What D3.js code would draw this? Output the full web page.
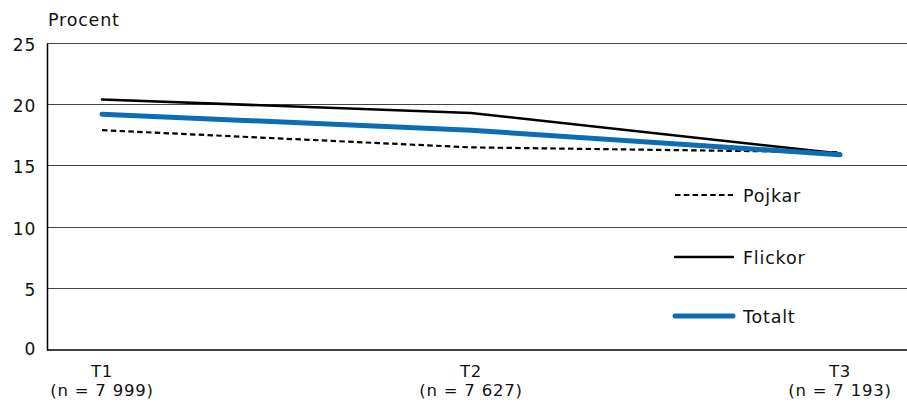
<!DOCTYPE html>
<html><head><meta charset="utf-8">
<script src="https://cdn.jsdelivr.net/npm/d3@7"></script>
<style>body{margin:0;background:#fff}svg{display:block;font-family:"DejaVu Sans",Verdana,sans-serif}text{letter-spacing:0.8px}</style>
</head><body><svg id="c" width="907" height="408"></svg>
<script>
const categories = ["T1", "T2", "T3"];
const nLabels = ["(n = 7 999)", "(n = 7 627)", "(n = 7 193)"];
const pojkar = [17.9, 16.5, 16.1];
const flickor = [20.4, 19.3, 16.0];
const totalt = [19.2, 17.9, 15.9];
const yTicks = [0, 5, 10, 15, 20, 25];
const seriesNames = ["Pojkar", "Flickor", "Totalt"];

const FONT = "DejaVu Sans, Verdana, sans-serif";
const svg = d3.select("#c");
const mLeft = 47, mRight = 907, mTop = 43, mBottom = 350;
const x = d3.scalePoint().domain(categories).range([102, 840]);
const y = d3.scaleLinear().domain([0, 25]).range([mBottom, mTop]);

// gridlines
svg.append("g").selectAll("line").data(yTicks.filter(d => d > 0)).join("line")
  .attr("x1", mLeft).attr("x2", mRight).attr("y1", d => y(d)).attr("y2", d => y(d))
  .attr("stroke", "#444").attr("stroke-width", 1).attr("shape-rendering", "crispEdges");

// y axis
const ya = svg.append("g").attr("transform", `translate(${mLeft},0)`)
  .call(d3.axisLeft(y).tickValues(yTicks).tickSize(0).tickPadding(11));
ya.select(".domain").attr("stroke", "#000").attr("stroke-width", 1.5);
ya.selectAll("text").attr("font-size", 17).attr("fill", "#111").attr("font-family", FONT)
  .attr("dy", d => d === 0 ? "0.25em" : "0.42em");

// x axis line
svg.append("line").attr("x1", mLeft).attr("x2", mRight).attr("y1", y(0)).attr("y2", y(0))
  .attr("stroke", "#000").attr("stroke-width", 1.5);

// x labels
const xl = svg.append("g");
xl.selectAll("text.t").data(categories).join("text").attr("class", "t")
  .attr("x", d => x(d)).attr("y", 376.5).attr("text-anchor", "middle")
  .attr("font-size", 16.5).attr("fill", "#111").text(d => d);
xl.selectAll("text.n").data(categories).join("text").attr("class", "n")
  .attr("x", d => x(d)).attr("y", 396).attr("text-anchor", "middle")
  .attr("font-size", 16.5).attr("fill", "#111").text((d, i) => nLabels[i]);

// title
svg.append("text").attr("x", 48).attr("y", 26).attr("font-size", 17.5).attr("fill", "#111").text("Procent");

const line = d3.line().x((d, i) => x(categories[i])).y(d => y(d));
const styles = [
  {data: pojkar, stroke: "#000", width: 2.2, dash: "5.5,3.3"},
  {data: flickor, stroke: "#000", width: 2.5, dash: null},
  {data: totalt, stroke: "#0a6db5", width: 5, dash: null}
];
styles.forEach(s => {
  svg.append("path").datum(s.data).attr("d", line).attr("fill", "none")
    .attr("stroke", s.stroke).attr("stroke-width", s.width)
    .attr("stroke-dasharray", s.dash).attr("stroke-linecap", s.dash ? "butt" : "round");
});

// legend
const legY = [195, 257, 316];
styles.forEach((s, i) => {
  svg.append("line").attr("x1", 675).attr("x2", 733).attr("y1", legY[i]).attr("y2", legY[i])
    .attr("stroke", s.stroke).attr("stroke-width", s.width).attr("stroke-dasharray", s.dash)
    .attr("stroke-linecap", s.dash ? "butt" : "round");
  svg.append("text").attr("x", 743).attr("y", legY[i] + 7).attr("font-size", 17.5)
    .attr("fill", "#111").text(seriesNames[i]);
});
</script></body></html>
